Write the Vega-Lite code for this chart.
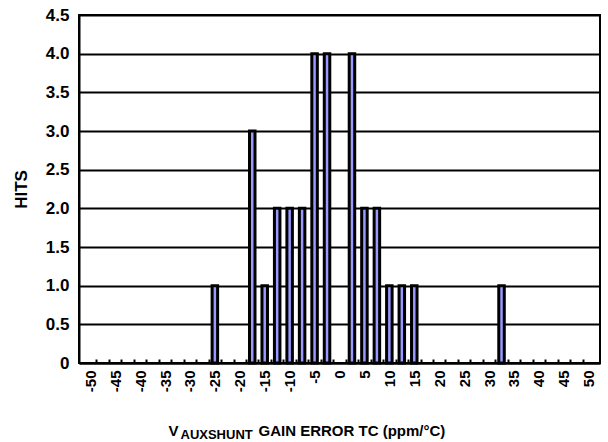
{
  "$schema": "https://vega.github.io/schema/vega-lite/v6.json",
  "width": 521,
  "height": 348,
  "autosize": {"type": "none"},
  "padding": {"left": 79, "top": 15, "right": 8, "bottom": 79},
  "config": {
    "font": "Liberation Sans",
    "view": {"stroke": "black", "strokeWidth": 2},
    "axis": {"labelFont": "Liberation Sans", "titleFont": "Liberation Sans", "labelColor": "black", "titleColor": "black"}
  },
  "data": {
    "values": [
      {"tc": -25, "hits": 1},
      {"tc": -17.5, "hits": 3},
      {"tc": -15, "hits": 1},
      {"tc": -12.5, "hits": 2},
      {"tc": -10, "hits": 2},
      {"tc": -7.5, "hits": 2},
      {"tc": -5, "hits": 4},
      {"tc": -2.5, "hits": 4},
      {"tc": 2.5, "hits": 4},
      {"tc": 5, "hits": 2},
      {"tc": 7.5, "hits": 2},
      {"tc": 10, "hits": 1},
      {"tc": 12.5, "hits": 1},
      {"tc": 15, "hits": 1},
      {"tc": 32.5, "hits": 1}
    ]
  },
  "layer": [
    {
      "mark": {"type": "bar", "width": 5.5, "fill": "#9999FF", "stroke": "black", "strokeWidth": 3},
      "encoding": {
        "x": {
          "field": "tc", "type": "quantitative",
          "scale": {"domain": [-51.25, 51.25], "nice": false, "zero": false},
          "axis": {
            "orient": "bottom",
            "values": [-48.75, -46.25, -43.75, -41.25, -38.75, -36.25, -33.75, -31.25, -28.75, -26.25, -23.75, -21.25, -18.75, -16.25, -13.75, -11.25, -8.75, -6.25, -3.75, -1.25, 1.25, 3.75, 6.25, 8.75, 11.25, 13.75, 16.25, 18.75, 21.25, 23.75, 26.25, 28.75, 31.25, 33.75, 36.25, 38.75, 41.25, 43.75, 46.25, 48.75],
            "labels": false,
            "grid": false,
            "ticks": true,
            "tickSize": -4,
            "tickWidth": 2,
            "tickColor": "black",
            "domain": true,
            "domainColor": "black",
            "domainWidth": 2,
            "title": "V",
            "titleFontSize": 15,
            "titleFontWeight": "bold",
            "titleAlign": "left",
            "titleBaseline": "alphabetic",
            "titleAngle": 0,
            "titleX": 89,
            "titleY": 72
          }
        },
        "y": {
          "field": "hits", "type": "quantitative",
          "scale": {"domain": [0, 4.5], "nice": false},
          "axis": {
            "values": [0, 0.5, 1, 1.5, 2, 2.5, 3, 3.5, 4, 4.5],
            "labelExpr": "datum.value === 0 ? '0' : format(datum.value, '.1f')",
            "labelFontSize": 17,
            "labelFontWeight": "bold",
            "labelPadding": 10,
            "ticks": false,
            "grid": true,
            "gridColor": "black",
            "gridWidth": 2,
            "gridOpacity": 1,
            "domain": true,
            "domainColor": "black",
            "domainWidth": 2,
            "title": "HITS",
            "titleFontSize": 17,
            "titleFontWeight": "bold",
            "titleAngle": 270,
            "titleAlign": "center",
            "titleBaseline": "alphabetic",
            "titleX": -53,
            "titleY": 174
          }
        }
      }
    },
    {
      "mark": {"type": "point", "opacity": 0},
      "encoding": {
        "x": {
          "field": "tc", "type": "quantitative",
          "axis": {
            "orient": "bottom",
            "values": [-50, -45, -40, -35, -30, -25, -20, -15, -10, -5, 0, 5, 10, 15, 20, 25, 30, 35, 40, 45, 50],
            "labelExpr": "'' + datum.value",
            "labelAngle": 270,
            "labelFontSize": 15,
            "labelFontWeight": "bold",
            "labelPadding": 7,
            "labelOverlap": false,
            "labelFlush": false,
            "labelBound": false,
            "ticks": false,
            "domain": false,
            "grid": false,
            "title": "AUXSHUNT",
            "titleFontSize": 13,
            "titleFontWeight": "bold",
            "titleAlign": "left",
            "titleBaseline": "alphabetic",
            "titleAngle": 0,
            "titleX": 101,
            "titleY": 75.5
          }
        }
      }
    },
    {
      "mark": {"type": "point", "opacity": 0},
      "encoding": {
        "x": {
          "field": "tc", "type": "quantitative",
          "axis": {
            "orient": "bottom",
            "labels": false,
            "ticks": false,
            "domain": false,
            "grid": false,
            "title": "GAIN ERROR TC (ppm/°C)",
            "titleFontSize": 15,
            "titleFontWeight": "bold",
            "titleAlign": "left",
            "titleBaseline": "alphabetic",
            "titleAngle": 0,
            "titleX": 179,
            "titleY": 72
          }
        }
      }
    }
  ],
  "resolve": {"axis": {"x": "independent"}}
}
